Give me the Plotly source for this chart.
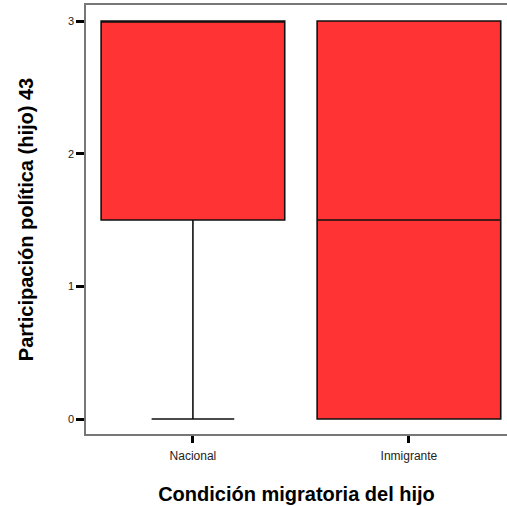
import plotly.graph_objects as go

categories = ["Nacional", "Inmigrante"]
q1 = [1.5, 0.0]
median = [3.0, 1.5]
q3 = [3.0, 3.0]
lowerfence = [0.0, 0.0]
upperfence = [3.0, 3.0]
y_ticks = [0, 1, 2, 3]

fig = go.Figure()
for i, c in enumerate(categories):
    fig.add_trace(go.Box(
        x=[c], q1=[q1[i]], median=[median[i]], q3=[q3[i]],
        lowerfence=[lowerfence[i]], upperfence=[upperfence[i]],
        fillcolor="#FF3333", line=dict(color="#111111", width=1.6),
        width=0.85, whiskerwidth=0.45, showlegend=False, hoverinfo="skip",
    ))

fig.update_layout(
    width=507, height=506,
    margin=dict(l=86, r=0, t=5, b=72),
    paper_bgcolor="white", plot_bgcolor="white",
    font=dict(family="Liberation Sans, Arial", color="#222222"),
    showlegend=False,
)
fig.update_xaxes(
    type="category", categoryorder="array", categoryarray=categories,
    range=[-0.495, 1.454],
    showline=True, linecolor="#777777", linewidth=1.5, mirror=True,
    showgrid=False, zeroline=False,
    ticks="outside", ticklen=7, tickwidth=3, tickcolor="black",
    ticklabelstandoff=3,
    tickfont=dict(size=12, color="#222222"),
    title=dict(text="<b>Condición migratoria del hijo</b>", font=dict(size=20, color="black"), standoff=25),
)
fig.update_yaxes(
    range=[-0.113, 3.1206],
    tickvals=y_ticks,
    showline=True, linecolor="#777777", linewidth=1.5, mirror=False,
    showgrid=False, zeroline=False,
    ticks="outside", ticklen=8, tickwidth=3, tickcolor="black",
    tickfont=dict(size=11, color="#222222"),
    title=dict(text="<b>Participación política (hijo) 43</b>", font=dict(size=20, color="black"), standoff=29),
)
fig.write_html(
    "out.html",
    config={"displayModeBar": False},
    post_script="document.body.style.margin='0';document.body.style.padding='0';",
)
